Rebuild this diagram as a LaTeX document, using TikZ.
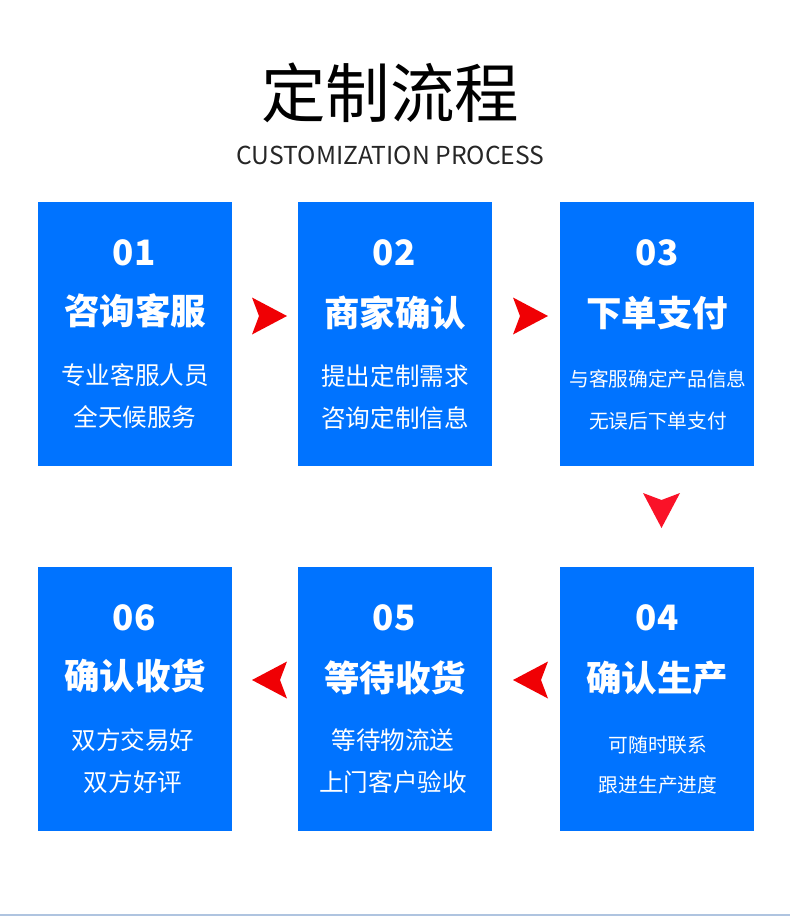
\documentclass[tikz,border=0pt]{standalone}
\usepackage{fontspec}
\newfontfamily\cjk{Noto Sans CJK SC}
\usetikzlibrary{arrows.meta,positioning}
\definecolor{flowblue}{HTML}{0073FF}
\definecolor{flowred}{HTML}{F00004}
\definecolor{flowrose}{HTML}{FA1228}
\definecolor{footline}{HTML}{AFC4E0}
\begin{document}
\begin{tikzpicture}[x=1pt,y=-1pt,
  flowbox/.style={fill=flowblue,minimum width=194pt,minimum height=264pt,inner sep=0pt,outer sep=0pt},
  flownum/.style={text=white,inner sep=0pt,font=\cjk\bfseries\fontsize{35}{35}\selectfont},
  flowhead/.style={text=white,inner sep=0pt,font=\cjk\bfseries\fontsize{35.5}{36}\selectfont},
  flowtext/.style={text=white,inner sep=0pt,font=\cjk\fontsize{24.6}{25}\selectfont},
  flowsmall/.style={text=white,inner sep=0pt,font=\cjk\fontsize{19.7}{20}\selectfont},
  flowtip/.style={line width=0.1pt,#1,-{Stealth[length=35pt,width=37pt,inset=7pt,fill=#1,line width=0pt]}},
  flowtip/.default=flowred]
\useasboundingbox (0,0) rectangle (790,916);
\fill[white] (0,0) rectangle (790,916);
\coordinate (lineL) at (0,915.2);
\coordinate (lineR) at (790,915.2);
\draw[footline,line width=1.6pt] (lineL) -- (lineR);
% title
\node[inner sep=0pt,font=\cjk\fontsize{64.5}{65}\selectfont] (title) at (390,93) {定制流程};
\node[inner sep=0pt,font=\cjk\fontsize{24.7}{25}\selectfont,text=black!85] (subtitle) at (390.5,155) {CUSTOMIZATION PROCESS};
% top row
\node[flowbox] (box1) at (135,334) {};
\node[flowbox] (box2) at (395,334) {};
\node[flowbox] (box3) at (657,334) {};
\node[flownum] (num1) at (134,253) {01};
\node[flownum] (num2) at (394,253) {02};
\node[flownum] (num3) at (657,253) {03};
\node[flowhead] (head1) at (135,311) {咨询客服};
\node[flowhead] (head2) at (395,313) {商家确认};
\node[flowhead] (head3) at (657,313) {下单支付};
\node[flowtext] (text1a) at (135,375) {专业客服人员};
\node[flowtext] (text1b) at (135,417) {全天候服务};
\node[flowtext] (text2a) at (395,376) {提出定制需求};
\node[flowtext] (text2b) at (395,418) {咨询定制信息};
\node[flowsmall] (text3a) at (658,379) {与客服确定产品信息};
\node[flowsmall] (text3b) at (658,421) {无误后下单支付};
% bottom row
\node[flowbox] (box6) at (135,699) {};
\node[flowbox] (box5) at (395,699) {};
\node[flowbox] (box4) at (657,699) {};
\node[flownum] (num6) at (134,618) {06};
\node[flownum] (num5) at (394,618) {05};
\node[flownum] (num4) at (657,618) {04};
\node[flowhead] (head6) at (135,676) {确认收货};
\node[flowhead] (head5) at (395,678) {等待收货};
\node[flowhead] (head4) at (657,678) {确认生产};
\node[flowtext] (text6a) at (133,740) {双方交易好};
\node[flowtext] (text6b) at (133,782) {双方好评};
\node[flowtext] (text5a) at (393,740) {等待物流送};
\node[flowtext] (text5b) at (393,782) {上门客户验收};
\node[flowsmall] (text4a) at (658,745) {可随时联系};
\node[flowsmall] (text4b) at (658,785) {跟进生产进度};
% red arrows
\coordinate (a12s) at (268,316);
\coordinate (a12e) at (287,316);
\coordinate (a23s) at (529,316);
\coordinate (a23e) at (548,316);
\coordinate (a34s) at (661.5,509);
\coordinate (a34e) at (661.5,528);
\coordinate (a45s) at (532,680);
\coordinate (a45e) at (513,680);
\coordinate (a56s) at (271,680);
\coordinate (a56e) at (252,680);
\draw[flowtip] (a12s) -- (a12e);
\draw[flowtip] (a23s) -- (a23e);
\draw[flowtip=flowrose] (a34s) -- (a34e);
\draw[flowtip] (a45s) -- (a45e);
\draw[flowtip] (a56s) -- (a56e);
\end{tikzpicture}
\end{document}
